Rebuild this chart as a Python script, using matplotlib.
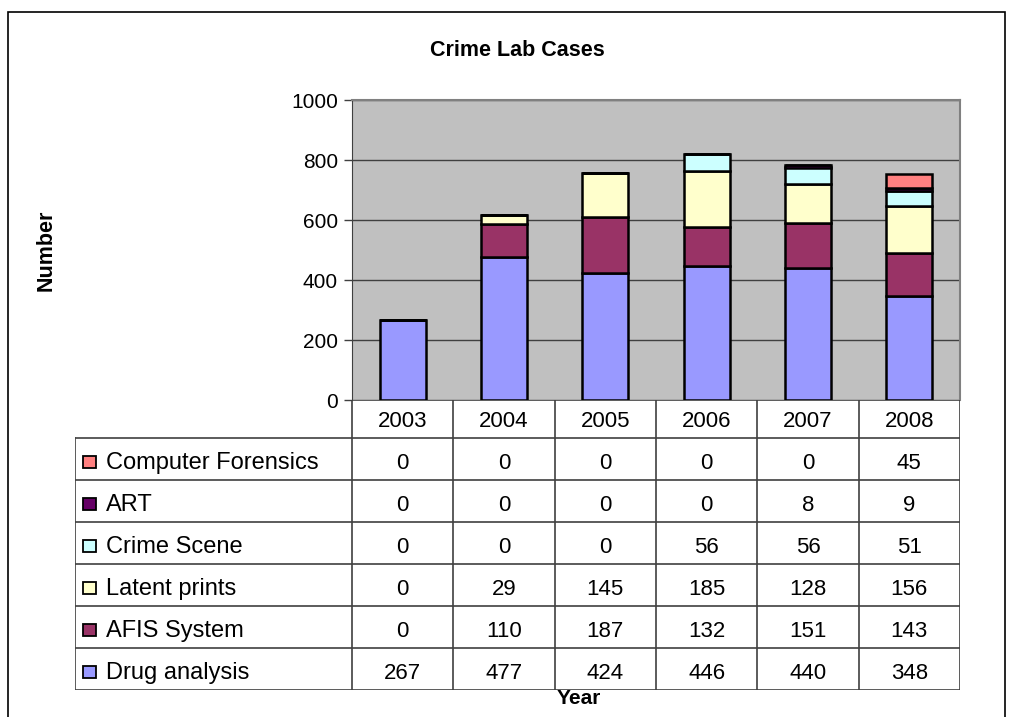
import matplotlib
matplotlib.use("Agg")
import matplotlib.pyplot as plt
from matplotlib.patches import Rectangle
import numpy as np

plt.rcParams['font.family'] = ['Liberation Sans', 'DejaVu Sans']

years = ["2003", "2004", "2005", "2006", "2007", "2008"]

# series, bottom of the stack first
drug_analysis = [267, 477, 424, 446, 440, 348]
afis_system = [0, 110, 187, 132, 151, 143]
latent_prints = [0, 29, 145, 185, 128, 156]
crime_scene = [0, 0, 0, 56, 56, 51]
art = [0, 0, 0, 0, 8, 9]
computer_forensics = [0, 0, 0, 0, 0, 45]

series_names = ["Drug analysis", "AFIS System", "Latent prints",
                "Crime Scene", "ART", "Computer Forensics"]
series_values = [drug_analysis, afis_system, latent_prints,
                 crime_scene, art, computer_forensics]
series_colors = ["#9999FF", "#993366", "#FFFFCC", "#CCFFFF", "#660066", "#FF8080"]

W, H = 1010, 717
fig = plt.figure(figsize=(W / 100, H / 100), dpi=100)

# pixel positions of the plot area and table
px_left, px_right = 352, 960
px_top, px_zero = 100, 400
tab_left, tab_head, tab_bottom = 75, 438, 690

ax = fig.add_axes([px_left / W, 1 - px_zero / H,
                   (px_right - px_left) / W, (px_zero - px_top) / H])
ax.set_facecolor("#C0C0C0")

x = np.arange(len(years))
bottom = np.zeros(len(years))
for name, vals, col in zip(series_names, series_values, series_colors):
    ax.bar(x, vals, width=0.4545, bottom=bottom, color=col,
           edgecolor="black", linewidth=1.8, zorder=3)
    bottom += np.array(vals)

ax.set_xlim(-0.5, len(years) - 0.5)
ax.set_ylim(0, 1000)
ax.set_yticks(range(0, 1001, 200))
ax.tick_params(axis="y", labelsize=15, length=6, width=1, color="#404040", pad=4)
ax.set_xticks([])
ax.yaxis.grid(True, color="#404040", linewidth=1)
ax.set_axisbelow(True)
for s in ["top", "right"]:
    ax.spines[s].set_color("#808080")
    ax.spines[s].set_linewidth(1.5)
ax.spines["left"].set_color("#404040")
ax.spines["bottom"].set_visible(False)

# data table drawn in its own axes, same column units as the chart
col_w = (px_right - px_left) / len(years)
label_w = (px_left - tab_left) / col_w
tab = fig.add_axes([tab_left / W, 1 - tab_bottom / H,
                    (px_right - tab_left) / W, (tab_bottom - px_zero) / H])
n_rows = len(series_names)
head_h = (tab_head - px_zero) / ((tab_bottom - tab_head) / n_rows)
tab.set_xlim(-0.5 - label_w, len(years) - 0.5)
tab.set_ylim(n_rows, -head_h)
tab.axis("off")

lc = "#404040"
lw = 1.2
# horizontal lines
tab.plot([-0.5, len(years) - 0.5], [-head_h, -head_h], color=lc, lw=lw)
for r in range(n_rows + 1):
    tab.plot([-0.5 - label_w, len(years) - 0.5], [r, r], color=lc, lw=lw)
# vertical lines
tab.plot([-0.5 - label_w] * 2, [0, n_rows], color=lc, lw=lw)
for c in range(len(years) + 1):
    tab.plot([c - 0.5] * 2, [-head_h, n_rows], color=lc, lw=lw)

for c, yr in enumerate(years):
    tab.text(c, -head_h / 2 + 0.05, yr, ha="center", va="center", fontsize=16)

# table rows run top series first
for r, (name, vals, col) in enumerate(zip(series_names[::-1], series_values[::-1],
                                          series_colors[::-1])):
    tab.add_patch(Rectangle((-0.5 - label_w + 0.08, r + 0.42), 0.125, 0.3,
                            facecolor=col, edgecolor="black", lw=1.3))
    tab.text(-0.5 - label_w + 0.31, r + 0.6, name, ha="left", va="center",
             fontsize=17)
    for c, v in enumerate(vals):
        tab.text(c, r + 0.6, str(v), ha="center", va="center", fontsize=16)

fig.text(517 / W, 1 - 50 / H, "Crime Lab Cases", ha="center", va="center",
         fontsize=15.5, fontweight="bold")
fig.text(46 / W, 1 - 250 / H, "Number", ha="center", va="center",
         rotation=90, fontsize=15.5, fontweight="bold")
fig.text(579 / W, 1 - 699 / H, "Year", ha="center", va="center",
         fontsize=15, fontweight="bold")

# outer chart border
fig.patches.append(Rectangle((8 / W, -0.05), 997 / W, 1.05 - 12 / H,
                             transform=fig.transFigure, fill=False,
                             edgecolor="black", lw=1.2))

fig.savefig("out.png", dpi=100)
